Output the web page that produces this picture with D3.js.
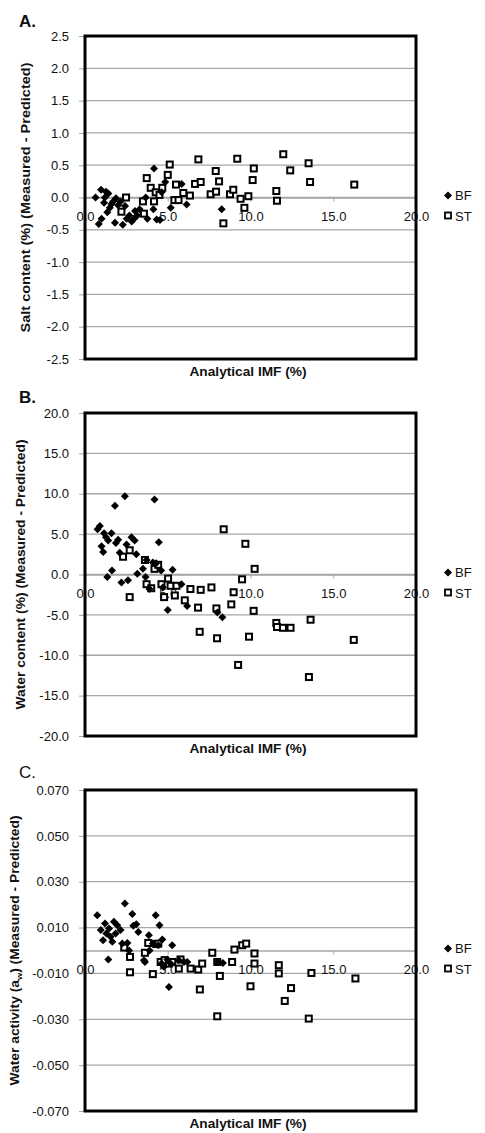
<!DOCTYPE html>
<html>
<head>
<meta charset="utf-8">
<script src="https://cdn.jsdelivr.net/npm/d3@7"></script>
<style>
  body { margin: 0; background: #fff; }
  text { font-family: "Liberation Sans", Arial, sans-serif; fill: #111; }
</style>
</head>
<body>
<svg id="chart"></svg>
<script>
// Data

// A. salt content residuals
const saltBF = [[0.64,0.0],[0.83,-0.41],[0.97,0.12],[1.0,-0.33],[1.15,-0.08],[1.27,0.09],[1.2,0.0],[1.35,-0.23],[1.41,0.06],[1.5,-0.16],[1.6,-0.1],[1.7,-0.06],[1.81,-0.39],[1.87,-0.01],[2.0,-0.12],[2.15,-0.06],[2.28,-0.42],[2.42,-0.13],[2.52,-0.33],[2.68,-0.28],[2.82,-0.37],[2.96,-0.33],[3.02,-0.21],[3.16,-0.28],[3.3,-0.18],[3.67,0.0],[3.77,-0.33],[4.17,0.45],[4.13,-0.18],[4.33,-0.34],[4.53,-0.35],[4.63,0.08],[4.85,0.24],[5.18,-0.16],[5.84,0.21],[6.14,-0.11],[8.26,-0.18]];
const saltST = [[2.48,0.0],[2.2,-0.22],[3.5,-0.06],[3.56,-0.25],[3.73,0.30],[3.97,0.15],[4.27,0.08],[4.17,-0.06],[4.67,0.15],[4.5,0.04],[5.0,0.35],[5.12,0.51],[5.5,0.2],[5.4,-0.04],[5.65,-0.04],[5.94,0.07],[6.34,0.03],[6.65,0.21],[6.85,0.59],[6.99,0.24],[7.59,0.05],[7.9,0.41],[7.92,0.09],[8.1,0.25],[8.36,-0.4],[8.76,0.05],[8.96,0.12],[9.2,0.6],[9.4,-0.02],[9.63,-0.16],[9.87,0.02],[10.13,0.27],[10.2,0.45],[11.56,0.1],[11.6,-0.05],[11.98,0.67],[12.4,0.42],[13.51,0.53],[13.6,0.24],[16.27,0.2]];

// B. water content residuals
const waterBF = [[0.76,5.6],[0.9,6.0],[1.0,3.5],[1.1,2.8],[1.15,5.1],[1.27,4.6],[1.35,-0.3],[1.4,4.2],[1.6,5.1],[1.63,0.5],[1.81,8.5],[1.87,3.9],[2.0,4.3],[2.1,2.7],[2.2,-1.0],[2.41,9.7],[2.51,3.7],[2.6,-0.7],[2.81,4.6],[3.0,4.2],[3.1,2.5],[3.16,0.1],[3.5,0.7],[3.66,-0.3],[3.72,1.8],[3.9,-1.8],[4.1,1.5],[4.2,9.3],[4.3,1.4],[4.46,4.0],[4.6,0.5],[4.7,-1.6],[5.0,-4.4],[5.29,0.6],[5.83,-1.2],[6.17,-3.9],[8.0,-4.7],[8.3,-5.3]];
const waterST = [[2.3,2.2],[2.7,3.0],[2.7,-2.8],[3.62,1.8],[3.72,-1.2],[4.0,-1.7],[4.2,0.7],[4.42,1.2],[4.62,-1.2],[4.78,-2.8],[5.02,-0.5],[5.17,-1.4],[5.43,-2.6],[5.53,-1.4],[6.03,-3.2],[6.37,-1.8],[6.83,-4.1],[6.93,-7.1],[6.99,-1.9],[7.64,-1.6],[7.94,-4.2],[7.98,-7.9],[8.38,5.6],[8.84,-3.7],[8.98,-2.2],[9.25,-11.2],[9.49,-0.6],[9.69,3.8],[9.91,-7.7],[10.19,-4.5],[10.25,0.7],[11.56,-6.0],[11.6,-6.5],[11.96,-6.6],[12.42,-6.6],[13.53,-12.7],[13.63,-5.6],[16.24,-8.1]];

// C. water activity residuals
const awBF = [[0.74,0.0154],[0.95,0.0089],[1.09,0.0045],[1.21,0.0118],[1.29,0.0074],[1.41,-0.0039],[1.45,0.0096],[1.55,0.006],[1.65,0.0038],[1.75,0.0125],[1.85,0.0074],[1.95,0.011],[2.15,0.0089],[2.25,0.003],[2.41,0.0205],[2.56,0.0033],[2.66,0.0],[2.86,0.0159],[2.92,0.0108],[3.1,0.0115],[3.22,0.0081],[3.56,-0.0042],[3.62,-0.005],[3.86,0.0067],[3.9,0.0],[4.1,0.003],[4.27,0.0154],[4.43,0.0023],[4.5,0.011],[4.67,0.0048],[4.63,-0.0057],[4.77,-0.0071],[4.97,-0.0039],[5.07,-0.0159],[5.27,0.0023],[5.17,-0.0057],[5.67,-0.0042],[5.98,-0.005],[6.18,-0.005],[8.0,-0.005],[8.33,-0.0054]];
const awST = [[2.37,0.0013],[2.72,-0.0028],[2.72,-0.0095],[3.62,-0.001],[3.82,0.0033],[4.1,-0.0103],[4.31,0.0028],[4.43,0.003],[4.57,-0.005],[4.81,-0.0042],[5.07,-0.0057],[5.27,-0.005],[5.67,-0.0079],[5.77,-0.0039],[6.38,-0.0079],[6.84,-0.0083],[6.94,-0.017],[7.08,-0.0057],[7.69,-0.001],[7.99,-0.005],[7.99,-0.0287],[8.15,-0.0111],[8.89,-0.005],[9.03,0.0004],[9.5,0.0023],[9.74,0.003],[10.0,-0.0156],[10.24,-0.0013],[10.24,-0.0057],[11.71,-0.0064],[11.71,-0.01],[12.07,-0.022],[12.45,-0.0164],[13.52,-0.0297],[13.68,-0.0098],[16.34,-0.0122]];

// Axis ticks
const xTicks = [0, 5, 10, 15, 20];
const saltTicks = [2.5, 2.0, 1.5, 1.0, 0.5, 0.0, -0.5, -1.0, -1.5, -2.0, -2.5];
const waterTicks = [20, 15, 10, 5, 0, -5, -10, -15, -20];
const awTicks = [0.07, 0.05, 0.03, 0.01, -0.01, -0.03, -0.05, -0.07];

const seriesNames = ['BF', 'ST'];

const W = 485, H = 1133;
const svg = d3.select('#chart').attr('width', W).attr('height', H);

// excel style numbers: plain hyphen for the minus sign
const fmt = p => d => d.toFixed(p);

const panels = [
    { tag: 'A.', tagBold: true, top: 36, bottom: 359, y0: 2.5, y1: -2.5, ticks: saltTicks, fmt: fmt(1),
      ylab: 'Salt content (%) (Measured - Predicted)', ylabX: 30, bf: saltBF, st: saltST, tagY: 27 },
    { tag: 'B.', tagBold: true, top: 413, bottom: 736, y0: 20, y1: -20, ticks: waterTicks, fmt: fmt(1),
      ylab: 'Water content (%) (Measured - Predicted)', ylabX: 25, bf: waterBF, st: waterST, tagY: 403 },
    { tag: 'C.', tagBold: false, top: 790, bottom: 1111, y0: 0.07, y1: -0.07, ticks: awTicks, fmt: fmt(3),
      ylab: null, ylabX: 19, bf: awBF, st: awST, tagY: 778 }
];

const left = 85, right = 416;
const x = d3.scaleLinear().domain([0, 20]).range([left, right]);

const diamond = d3.symbol(d3.symbolSquare, 32);

panels.forEach(p => {
    const g = svg.append('g');
    const y = d3.scaleLinear().domain([p.y1, p.y0]).range([p.bottom, p.top]);

    // gridlines
    g.append('g')
        .selectAll('line')
        .data(p.ticks)
        .join('line')
        .attr('x1', left).attr('x2', right)
        .attr('y1', d => y(d)).attr('y2', d => y(d))
        .attr('stroke', '#a6a6a6').attr('stroke-width', 1.3);

    // y axis (labels + short outside ticks)
    const yAxis = g.append('g')
        .attr('transform', 'translate(' + left + ',0)')
        .call(d3.axisLeft(y).tickValues(p.ticks).tickFormat(p.fmt).tickSize(6).tickPadding(10));
    yAxis.select('.domain').remove();
    yAxis.selectAll('line').attr('stroke', '#a6a6a6');
    yAxis.selectAll('text').attr('font-size', 13).attr('font-family', '"Liberation Sans", Arial, sans-serif')
        .attr('fill', '#111');

    // x axis through zero
    const xAxis = g.append('g')
        .attr('transform', 'translate(0,' + y(0) + ')')
        .call(d3.axisBottom(x).tickValues(xTicks).tickFormat(fmt(1)).tickSize(4).tickSizeOuter(0).tickPadding(10));
    xAxis.select('.domain').attr('stroke', '#a6a6a6').attr('stroke-width', 1.3);
    xAxis.selectAll('line').attr('stroke', '#a6a6a6');
    xAxis.selectAll('text').attr('font-size', 13).attr('font-family', '"Liberation Sans", Arial, sans-serif')
        .attr('fill', '#111');

    // ST squares
    g.append('g')
        .selectAll('rect')
        .data(p.st)
        .join('rect')
        .attr('x', d => x(d[0]) - 3)
        .attr('y', d => y(d[1]) - 3)
        .attr('width', 6).attr('height', 6)
        .attr('fill', '#fff').attr('stroke', '#000').attr('stroke-width', 2);

    // BF diamonds
    g.append('g')
        .selectAll('path')
        .data(p.bf)
        .join('path')
        .attr('d', diamond)
        .attr('transform', d => 'translate(' + x(d[0]) + ',' + y(d[1]) + ') rotate(45)')
        .attr('fill', '#000');

    // frame
    g.append('rect')
        .attr('x', left).attr('y', p.top)
        .attr('width', right - left).attr('height', p.bottom - p.top)
        .attr('fill', 'none').attr('stroke', '#000').attr('stroke-width', 3);

    // panel tag
    g.append('text')
        .attr('x', 19).attr('y', p.tagY)
        .attr('font-size', 17).attr('font-weight', p.tagBold ? 'bold' : 'normal')
        .text(p.tag);

    // y label
    const cy = (p.top + p.bottom) / 2;
    const yl = g.append('text')
        .attr('transform', 'translate(' + p.ylabX + ',' + cy + ') rotate(-90)')
        .attr('text-anchor', 'middle')
        .attr('font-size', 12).attr('font-weight', 'bold')
        .attr('textLength', 270).attr('lengthAdjust', 'spacingAndGlyphs');
    if (p.ylab) {
        yl.text(p.ylab);
    } else {
        yl.append('tspan').text('Water activity (a');
        yl.append('tspan').attr('font-size', 8).attr('dy', 3).text('w');
        yl.append('tspan').attr('dy', -3).text(') (Measured - Predicted)');
    }

    // x label
    g.append('text')
        .attr('x', 248).attr('y', p.bottom + 17)
        .attr('text-anchor', 'middle')
        .attr('font-size', 13).attr('font-weight', 'bold')
        .attr('textLength', 117).attr('lengthAdjust', 'spacingAndGlyphs')
        .text('Analytical IMF (%)');

    // legend
    const lg = g.append('g');
    const ly = y(0);
    lg.append('path')
        .attr('d', diamond)
        .attr('transform', 'translate(448,' + (ly - 2) + ') rotate(45)')
        .attr('fill', '#000');
    lg.append('rect')
        .attr('x', 445).attr('y', ly + 15)
        .attr('width', 6).attr('height', 6)
        .attr('fill', '#fff').attr('stroke', '#000').attr('stroke-width', 1.8);
    lg.selectAll('text.leg')
        .data(seriesNames)
        .join('text')
        .attr('class', 'leg')
        .attr('x', 455)
        .attr('y', (d, i) => ly + 2 + i * 21)
        .attr('font-size', 13)
        .text(d => d);
});
</script>
</body>
</html>
